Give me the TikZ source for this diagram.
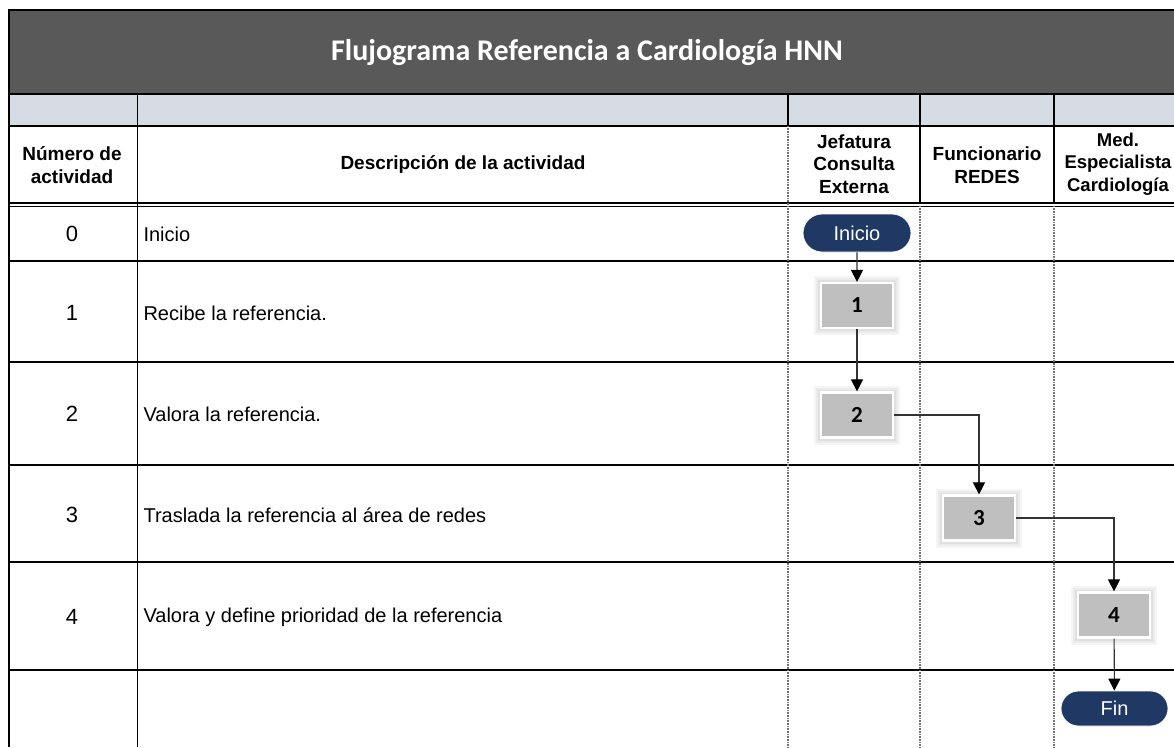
\documentclass[tikz,border=0pt]{standalone}
\usepackage{fontspec}
\setmainfont{Liberation Sans}
\newfontfamily\calfont{Carlito}
\usetikzlibrary{arrows.meta,shapes.misc}
\definecolor{bandgray}{HTML}{595959}
\definecolor{lightrow}{HTML}{D6DCE4}
\definecolor{boxgray}{HTML}{BFBFBF}
\definecolor{navy}{HTML}{1F3864}
\tikzset{
  rowline/.style={draw=black, line width=1.8pt},
  colline/.style={draw=black, line width=1.8pt},
  laneline/.style={draw=black!55, line width=1.6pt, dash pattern=on 1pt off 0.6pt},
  hdr/.style={font=\bfseries\fontsize{19}{22.5}\selectfont, align=center},
  numtxt/.style={font=\fontsize{22}{26}\selectfont},
  desctxt/.style={font=\fontsize{20}{23}\selectfont, anchor=west},
  actbox/.style={rectangle, fill=boxgray, draw=white, line width=2.2pt,
     minimum width=72pt, minimum height=45pt, inner sep=0pt,
     font=\calfont\bfseries\fontsize{23}{26}\selectfont,
     preaction={draw=black!4, line width=14pt},
     preaction={draw=black!8, line width=10pt},
     preaction={draw=black!12, line width=6pt}},
  term/.style={rounded rectangle, fill=navy, draw=white, line width=0.8pt, text=white,
     minimum width=108pt, minimum height=38pt, inner sep=0pt,
     font=\fontsize{20}{24}\selectfont},
  flow/.style={draw=black!80, line width=1.1pt, -{Triangle[width=12pt,length=12pt,color=black]}}
}
\begin{document}
\begin{tikzpicture}[x=1pt,y=-1pt]
\useasboundingbox (0,0) rectangle (1174,747);
\clip (0,0) rectangle (1174,747);
% title band
\fill[bandgray] (9,10) rectangle (1180,94);
\draw[black, line width=1.5pt] (1180,10) -- (9,10) -- (9,94);
\node[text=white, font=\calfont\bfseries\fontsize{30}{34}\selectfont] (title) at (587,53) {Flujograma Referencia a Cardiología HNN};
% light row
\fill[lightrow] (9,94) rectangle (1180,126);
% horizontal lines
\draw[rowline] (9,94) -- (1180,94);
\draw[rowline] (9,126) -- (1180,126);
\draw[rowline] (9,203) -- (1180,203);
\draw[draw=black, line width=1.2pt] (9,206.5) -- (1180,206.5);
\foreach \yy in {261,362,465,562,670} \draw[rowline] (9,\yy) -- (1180,\yy);
% vertical lines
\draw[colline] (9,94) -- (9,747);
\draw[colline] (137.5,94) -- (137.5,747);
\draw[colline] (788,94) -- (788,126);
\draw[colline] (920,94) -- (920,203);
\draw[colline] (1054,94) -- (1054,203);
\draw[laneline] (788,126) -- (788,747);
\draw[laneline] (920,206) -- (920,747);
\draw[laneline] (1054,206) -- (1054,747);
% header texts
\node[hdr] (hnum) at (72,165) {Número de\\actividad};
\node[hdr] (hdesc) at (463,165) {Descripción de la actividad};
\node[hdr] (hjef) at (854,164) {Jefatura\\Consulta\\Externa};
\node[hdr] (hfun) at (987,165) {Funcionario\\REDES};
\node[hdr, font=\bfseries\fontsize{18.5}{22.5}\selectfont] (hmed) at (1118,164) {Med.\\Especialista\\Cardiología};
% rows
\node[numtxt] (n0) at (72,234) {0};
\node[numtxt] (n1) at (72,313) {1};
\node[numtxt] (n2) at (72,414) {2};
\node[numtxt] (n3) at (72,515) {3};
\node[numtxt] (n4) at (72,617) {4};
\node[desctxt] (d0) at (140,234) {Inicio};
\node[desctxt] (d1) at (140,313) {Recibe la referencia.};
\node[desctxt] (d2) at (140,414) {Valora la referencia.};
\node[desctxt] (d3) at (140,515) {Traslada la referencia al área de redes};
\node[desctxt] (d4) at (140,617) {Valora y define prioridad de la referencia};
% flow nodes
\node[term] (ini) at (857,233) {Inicio};
\node[actbox] (a1) at (857,305.5) {1};
\node[actbox] (a2) at (857,415) {2};
\node[actbox] (a3) at (979,518) {3};
\node[actbox] (a4) at (1114,615) {4};
\node[term, minimum width=107pt, minimum height=35pt] (fin) at (1114.5,708.5) {Fin};
% connectors
\draw[flow] (ini) -- (a1);
\draw[flow] (a1) -- (a2);
\draw[flow] (a2.east) -| (a3.north);
\draw[flow] (a3.east) -| (a4.north);
\draw[flow] (a4) -- (fin);
\end{tikzpicture}
\end{document}
